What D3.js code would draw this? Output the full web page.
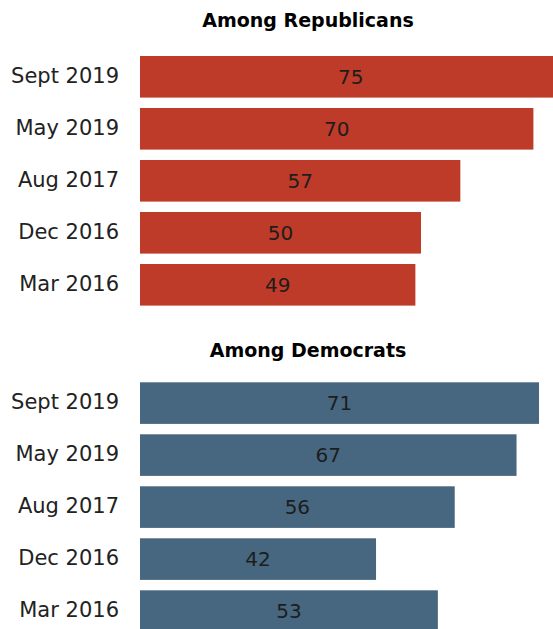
<!DOCTYPE html>
<html>
<head>
<meta charset="utf-8">
<script src="https://cdn.jsdelivr.net/npm/d3@7"></script>
<style>
  html, body { margin: 0; padding: 0; background: #ffffff; }
  svg { display: block; }
</style>
</head>
<body>
<div id="chart"></div>
<script>
// ---- Data ----
const categories = ["Sept 2019", "May 2019", "Aug 2017", "Dec 2016", "Mar 2016"];
const republicanValues = [75, 70, 57, 50, 49];
const democratValues = [71, 67, 56, 42, 53];
const panelTitles = ["Among Republicans", "Among Democrats"];

// ---- Layout ----
const width = 553, height = 629;
const svg = d3.select("#chart").append("svg")
  .attr("width", width).attr("height", height)
  .attr("viewBox", `0 0 ${width} ${height}`);

const x = d3.scaleLinear().domain([0, 100]).range([140, 702]);

const panels = [
  { title: panelTitles[0], values: republicanValues, color: "#be3a29", titleY: 26.7, range: [50.8, 310.8] },
  { title: panelTitles[1], values: democratValues, color: "#46677f", titleY: 356.7, range: [377.1, 637.1] }
];

const labelFont = "'DejaVu Sans', Verdana, sans-serif";

panels.forEach(p => {
  const y = d3.scaleBand().domain(categories).range(p.range)
    .paddingInner(0.2).paddingOuter(0.1);
  const g = svg.append("g");

  g.append("text")
    .attr("x", 308).attr("y", p.titleY)
    .attr("text-anchor", "middle")
    .style("font-family", labelFont)
    .style("font-weight", "bold")
    .style("font-size", "19px")
    .style("fill", "#000")
    .text(p.title);

  const data = categories.map((c, i) => ({ cat: c, v: p.values[i] }));

  g.selectAll("rect.bar").data(data).enter().append("rect")
    .attr("class", "bar")
    .attr("x", x(0))
    .attr("y", d => y(d.cat))
    .attr("width", d => x(d.v) - x(0))
    .attr("height", y.bandwidth())
    .attr("fill", p.color);

  g.selectAll("text.cat").data(data).enter().append("text")
    .attr("class", "cat")
    .attr("x", 119)
    .attr("y", d => y(d.cat) + y.bandwidth() / 2)
    .attr("dy", "0.3em")
    .attr("text-anchor", "end")
    .style("font-family", labelFont)
    .style("font-size", "21px")
    .style("fill", "#222")
    .text(d => d.cat);

  g.selectAll("text.val").data(data).enter().append("text")
    .attr("class", "val")
    .attr("x", d => (x(0) + x(d.v)) / 2)
    .attr("y", d => y(d.cat) + y.bandwidth() / 2)
    .attr("dy", "0.36em")
    .attr("text-anchor", "middle")
    .style("font-family", labelFont)
    .style("font-size", "20px")
    .style("fill", "#1d1d1d")
    .text(d => d.v);
});
</script>
</body>
</html>
